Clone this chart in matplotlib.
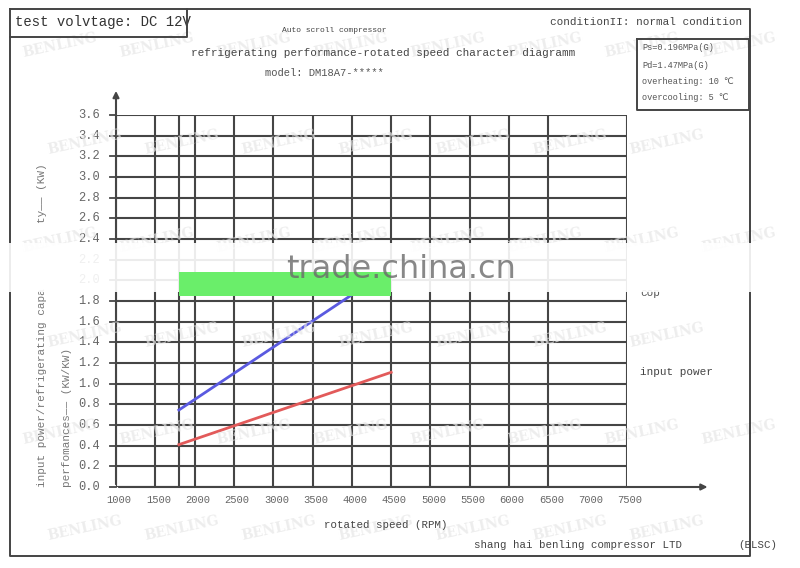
import matplotlib
matplotlib.use('Agg')
import matplotlib.pyplot as plt
from matplotlib.patches import Rectangle
from matplotlib.lines import Line2D

# ---------------- data ----------------
rpm_tick_labels = [1000, 1500, 2000, 2500, 3000, 3500, 4000, 4500,
                   5000, 5500, 6000, 6500, 7000, 7500]
rpm_grid = [1000, 1500, 1800, 2000, 2500, 3000, 3500, 4000, 4500,
            5000, 5500, 6000, 6500, 7500]
y_ticks = [0.0, 0.2, 0.4, 0.6, 0.8, 1.0, 1.2, 1.4, 1.6, 1.8,
           2.0, 2.2, 2.4, 2.6, 2.8, 3.0, 3.2, 3.4, 3.6]

capacity_rpm = [1800, 4000]
capacity_kw = [0.745, 1.86]
input_rpm = [1800, 4500]
input_kw = [0.41, 1.11]
band_rpm = [1800, 4500]
band_val = [1.85, 2.08]

params = ["Ps=0.196MPa(G)", "Pd=1.47MPa(G)", "overheating: 10 \u2103", "overcooling: 5 \u2103"]

# ---------------- figure ----------------
W, H = 800, 568
fig = plt.figure(figsize=(W / 100, H / 100), dpi=100)
fig.patch.set_facecolor('white')
FAM = ['Liberation Mono', 'DejaVu Sans']


def fx(x):
    return x / W


def fy(y):
    return 1 - y / H


def pt(px):
    return px * 72 / 100


def ftext(x, y, s, size_px, ha='left', va='center', color='#333333', **kw):
    fig.text(fx(x), fy(y), s, fontsize=pt(size_px), ha=ha, va=va,
             color=color, family=FAM, **kw)


def fline(xs, ys, color='#444444', lw=1.4, z=5):
    fig.add_artist(Line2D([fx(v) for v in xs], [fy(v) for v in ys],
                          color=color, lw=lw, zorder=z,
                          transform=fig.transFigure))


# faint watermarks
for r, yy in enumerate([45, 142, 240, 335, 432, 528]):
    off = 60 if r % 2 == 0 else 85
    for k in range(8):
        xx = off + 97 * k
        if xx > 745:
            continue
        fig.text(fx(xx), fy(yy), "BENLING", fontsize=10,
                 color='#e6e6e6', alpha=0.7, family='DejaVu Serif',
                 fontweight='bold', rotation=12, ha='center', va='center',
                 zorder=0)

# plot axes
L, R, B, T = 116, 627, 487, 115
ax = fig.add_axes([fx(L), fy(B), fx(R) - fx(L), fy(T) - fy(B)])
ax.set_xlim(1000, 7500)
ax.set_ylim(0, 3.6)
ax.patch.set_alpha(0)
for s in ax.spines.values():
    s.set_visible(False)
ax.set_xticks([])
ax.set_yticks([])

gc = '#454545'
ax.vlines(rpm_grid, 0, 3.6, color=gc, lw=1.5, zorder=2)
ax.hlines(y_ticks, 1000, 7500, color=gc, lw=1.5, zorder=2)

# axes arrows
ax.annotate('', xy=(8560, 0), xytext=(1000, 0),
            arrowprops=dict(arrowstyle='-|>', color=gc, lw=1.5,
                            mutation_scale=9), annotation_clip=False)
ax.annotate('', xy=(1000, 3.86), xytext=(1000, 0),
            arrowprops=dict(arrowstyle='-|>', color=gc, lw=1.5,
                            mutation_scale=9), annotation_clip=False)

# y tick marks and labels
for v in y_ticks:
    ax.plot([1000 - 70, 1000], [v, v], color=gc, lw=1.3, clip_on=False)
    ax.text(1000 - 200, v, f"{v:.1f}", ha='right', va='center',
            fontsize=pt(12), color='#666666', family=FAM)

for v in rpm_tick_labels:
    ax.text(v + 40, -0.13, str(v), ha='center', va='center',
            fontsize=pt(10.5), color='#666666', family=FAM)

# series
ax.plot(capacity_rpm, capacity_kw, color='#5a5ae0', lw=2, zorder=4)
ax.plot(input_rpm, input_kw, color='#e25a5a', lw=2, zorder=4)

# obscuring band (figure level, above the axes)
fig.add_artist(Rectangle((0, fy(292)), 1, fy(243) - fy(292),
                         transform=fig.transFigure, facecolor='white',
                         edgecolor='none', alpha=0.9, zorder=6))
# green highlight, drawn above the band
x0, y0 = ax.transData.transform((band_rpm[0], band_val[0]))
x1, y1 = ax.transData.transform((band_rpm[1], band_val[1]))
inv = fig.transFigure.inverted()
(fx0, fy0), (fx1, fy1) = inv.transform([(x0, y0), (x1, y1)])
fig.add_artist(Rectangle((fx0, fy0), fx1 - fx0, fy1 - fy0,
                         transform=fig.transFigure, facecolor='#6aee6a',
                         edgecolor='none', zorder=7))
fig.text(fx(401), fy(269), "trade.china.cn", fontsize=pt(32), color='#6a6a6a',
         alpha=0.8, ha='center', va='center', family='DejaVu Sans', zorder=8)

# frames
fline([10, 750, 750, 10, 10], [9, 9, 556, 556, 9])
fline([10, 187, 187], [37, 37, 9])
fline([637, 749, 749, 637, 637], [39, 39, 110, 110, 39])

# texts
ftext(15, 22, "test volvtage: DC 12V", 14, color='#333333')
ftext(334, 30, "Auto scroll compressor", 8, ha='center', color='#444444')
ftext(383, 53, "refrigerating performance-rotated speed character diagramm", 11,
      ha='center', color='#444444')
ftext(324, 73, "model: DM18A7-*****", 10.5, ha='center', color='#555555')
ftext(742, 22, "conditionII: normal condition", 11, ha='right', color='#444444')
for i, s in enumerate(params):
    ftext(642, [48, 65, 81, 97][i], s, 8.6, color='#555555')

ftext(640, 293, "cop", 11, color='#555555')
ftext(640, 372, "input power", 11, color='#444444')

ftext(42, 487, "input power/refrigerating capa", 11, ha='center', va='bottom',
      rotation=90, color='#777777')
ftext(42, 223, "ty\u2014\u2014 (KW)", 11, ha='center', va='bottom',
      rotation=90, color='#777777')
ftext(67, 487, "perfomances\u2014\u2014 (KW/KW)", 11, ha='center', va='bottom',
      rotation=90, color='#777777')

ftext(386, 525, "rotated speed (RPM)", 10.8, ha='center', color='#444444')
ftext(474, 545, "shang hai benling compressor LTD", 10.8, color='#444444')
ftext(738, 545, "(BLSC)", 10.8, color='#444444')

fig.savefig('out.png', dpi=100, facecolor='white')
